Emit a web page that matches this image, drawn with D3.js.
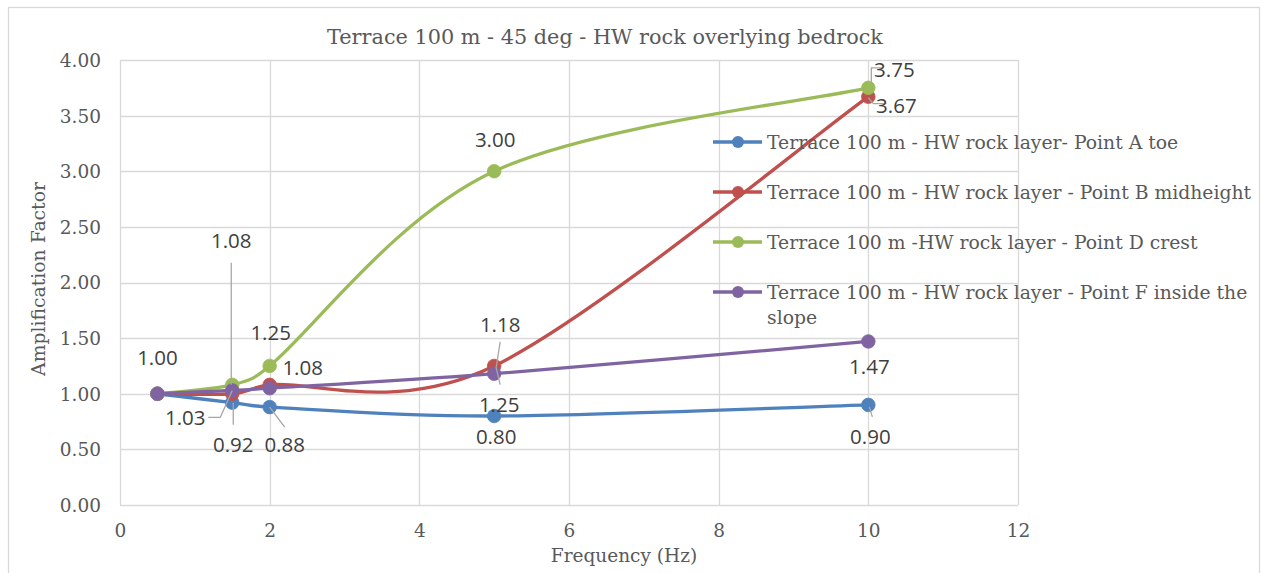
<!DOCTYPE html>
<html>
<head>
<meta charset="utf-8">
<script src="https://cdn.jsdelivr.net/npm/d3@7"></script>
<style>
  html, body { margin: 0; padding: 0; background: #ffffff; }
  svg { display: block; }
</style>
</head>
<body>
<svg id="chart" width="1265" height="573"></svg>
<script>
// Frequency sweep (Hz) shared by every series
const frequencies = [0.5, 1.5, 2, 5, 10];

// Amplification factor at each monitored point
const pointA = [1.00, 0.92, 0.88, 0.80, 0.90];
const pointB = [1.00, 1.00, 1.08, 1.25, 3.67];
const pointD = [1.00, 1.08, 1.25, 3.00, 3.75];
const pointF = [1.00, 1.03, 1.05, 1.18, 1.47];

const seriesNames = [
  "Terrace 100 m - HW rock layer- Point A toe",
  "Terrace 100 m - HW rock layer - Point B midheight",
  "Terrace 100 m -HW rock layer - Point D crest",
  "Terrace 100 m - HW rock layer - Point F inside the slope"
];

const xTicks = [0, 2, 4, 6, 8, 10, 12];
const yTicks = [0, 0.5, 1, 1.5, 2, 2.5, 3, 3.5, 4];

const titleText = "Terrace 100 m - 45 deg - HW rock overlying bedrock";
const xTitle = "Frequency (Hz)";
const yTitle = "Amplification Factor";

// ---- presentation -------------------------------------------------------
const colors = ["#4F81BD", "#C0504D", "#9BBB59", "#8064A2"];
const serif = "'DejaVu Serif', serif";
const sans = "'Open Sans', 'Liberation Sans', sans-serif";

// Value-label placement per series: point index, text offset, optional leader path
const labelPlacement = [
  [ // A
    { i: 1, dx: 1, dy: 42, leader: [[1, 0], [1, 22]] },
    { i: 2, dx: 15, dy: 38, leader: [[0, 0], [15, 20]] },
    { i: 3, dx: 2, dy: 21 },
    { i: 4, dx: 2, dy: 32, leader: [[1, 2], [4, 12]] }
  ],
  [ // B
    { i: 2, dx: 33, dy: -17 },
    { i: 3, dx: 5, dy: 39 },
    { i: 4, dx: 28, dy: 9, leader: [[0, 1], [5, 7], [18, 7]] }
  ],
  [ // D
    { i: 0, dx: 0, dy: -36 },
    { i: 1, dx: -1, dy: -144, leader: [[-1, -122], [-1, 0]] },
    { i: 2, dx: 1, dy: -33 },
    { i: 3, dx: 1, dy: -31 },
    { i: 4, dx: 26, dy: -18, leader: [[3, -5], [3, -20], [15, -20]] }
  ],
  [ // F
    { i: 1, dx: -47, dy: 27, leader: [[-24, 27], [-12, 27], [0, 0]] },
    { i: 3, dx: 6, dy: -49, leader: [[6, -32], [2, -6], [6, 11]] },
    { i: 4, dx: 1, dy: 25 }
  ]
];

const svg = d3.select("#chart");

// Chart frame
svg.append("rect")
  .attr("x", 8.5).attr("y", 7.5)
  .attr("width", 1251).attr("height", 580)
  .attr("fill", "#ffffff")
  .attr("stroke", "#d9d9d9").attr("stroke-width", 1.3);

const plot = { left: 120, right: 1018, top: 60, bottom: 505 };

const x = d3.scaleLinear().domain([0, 12]).range([plot.left, plot.right]);
const y = d3.scaleLinear().domain([0, 4]).range([plot.bottom, plot.top]);

// Gridlines
const grid = svg.append("g").attr("stroke", "#d9d9d9").attr("stroke-width", 1.3);
grid.selectAll("line.h").data(yTicks).join("line")
  .attr("class", "h")
  .attr("x1", plot.left).attr("x2", plot.right)
  .attr("y1", d => Math.round(y(d)) + 0.5).attr("y2", d => Math.round(y(d)) + 0.5);
grid.selectAll("line.v").data(xTicks).join("line")
  .attr("class", "v")
  .attr("y1", plot.top).attr("y2", plot.bottom)
  .attr("x1", d => Math.round(x(d)) + 0.5).attr("x2", d => Math.round(x(d)) + 0.5);

// Axes (tick labels only; the frame comes from the gridlines)
const yAxis = svg.append("g")
  .attr("transform", `translate(${plot.left},0)`)
  .call(d3.axisLeft(y).tickValues(yTicks).tickFormat(d3.format(".2f")).tickSize(0).tickPadding(19));
const xAxis = svg.append("g")
  .attr("transform", `translate(0,${plot.bottom})`)
  .call(d3.axisBottom(x).tickValues(xTicks).tickFormat(d3.format("d")).tickSize(0).tickPadding(19));
[yAxis, xAxis].forEach(a => {
  a.select(".domain").remove();
  a.selectAll("text")
    .attr("font-family", serif)
    .attr("font-size", 18.5)
    .attr("fill", "#595959");
});
yAxis.selectAll("text").attr("dy", "0.35em");
xAxis.selectAll("text").attr("dy", "0.71em");

// Titles
svg.append("text")
  .attr("x", 605).attr("y", 37).attr("dy", "0.35em")
  .attr("text-anchor", "middle")
  .attr("font-family", serif).attr("font-size", 20.8)
  .attr("fill", "#595959")
  .text(titleText);

svg.append("text")
  .attr("x", 624).attr("y", 556).attr("dy", "0.35em")
  .attr("text-anchor", "middle")
  .attr("font-family", serif).attr("font-size", 18.5)
  .attr("fill", "#595959")
  .text(xTitle);

svg.append("text")
  .attr("transform", "translate(38,279) rotate(-90)")
  .attr("dy", "0.35em")
  .attr("text-anchor", "middle")
  .attr("font-family", serif).attr("font-size", 18.8)
  .attr("fill", "#595959")
  .text(yTitle);

// Series
const seriesValues = [pointA, pointB, pointD, pointF];
const series = seriesValues.map((vals, k) => ({
  name: seriesNames[k],
  color: colors[k],
  points: frequencies.map((f, i) => ({ f, v: vals[i] }))
}));

// Smoothed line: Catmull-Rom style Bezier segments whose control arms are
// limited to half of the segment they belong to, so short segments next to
// long ones do not loop back on themselves.
function smoothPath(pts) {
  const p = pts.map(d => [x(d.f), y(d.v)]);
  const n = p.length;
  const tan = p.map((_, i) => {
    const a = p[Math.max(0, i - 1)], b = p[Math.min(n - 1, i + 1)];
    return [(b[0] - a[0]) / 6, (b[1] - a[1]) / 6];
  });
  const arm = (t, len) => {
    const l = Math.hypot(t[0], t[1]);
    const k = l > len * 0.5 ? (len * 0.5) / l : 1;
    return [t[0] * k, t[1] * k];
  };
  const path = d3.path();
  path.moveTo(p[0][0], p[0][1]);
  for (let i = 0; i < n - 1; i++) {
    const len = Math.hypot(p[i + 1][0] - p[i][0], p[i + 1][1] - p[i][1]);
    const a1 = arm(tan[i], len), a2 = arm(tan[i + 1], len);
    path.bezierCurveTo(
      p[i][0] + a1[0], p[i][1] + a1[1],
      p[i + 1][0] - a2[0], p[i + 1][1] - a2[1],
      p[i + 1][0], p[i + 1][1]);
  }
  return path.toString();
}

const seriesG = svg.append("g");
series.forEach(s => {
  const g = seriesG.append("g");
  g.append("path")
    .attr("d", smoothPath(s.points))
    .attr("fill", "none")
    .attr("stroke", s.color)
    .attr("stroke-width", 3.3)
    .attr("stroke-linecap", "round")
    .attr("stroke-linejoin", "round");
  g.selectAll("circle").data(s.points).join("circle")
    .attr("cx", d => x(d.f)).attr("cy", d => y(d.v))
    .attr("r", 6.8)
    .attr("fill", s.color)
    .attr("stroke", s.color).attr("stroke-width", 0.8);
});

// Legend
const legend = svg.append("g");
const legendY = [142, 192, 242, 292];
series.forEach((s, k) => {
  const g = legend.append("g").attr("transform", `translate(713,${legendY[k]})`);
  g.append("line")
    .attr("x1", 0).attr("x2", 49).attr("y1", 0).attr("y2", 0)
    .attr("stroke", s.color).attr("stroke-width", 3.3);
  g.append("circle").attr("cx", 25).attr("cy", 0).attr("r", 6)
    .attr("fill", s.color);
  const t = g.append("text")
    .attr("x", 54).attr("y", 0).attr("dy", "0.35em")
    .attr("font-family", serif).attr("font-size", 18.8)
    .attr("fill", "#595959");
  if (k === 3) {
    t.append("tspan").attr("x", 54).text("Terrace 100 m - HW rock layer - Point F inside the");
    t.append("tspan").attr("x", 54).attr("dy", 25).text("slope");
  } else {
    t.text(s.name);
  }
});

// Value labels with leader lines
const labelsG = svg.append("g");
const fmt = d3.format(".2f");
series.forEach((s, k) => {
  labelPlacement[k].forEach(p => {
    const d = s.points[p.i];
    const px = x(d.f), py = y(d.v);
    if (p.leader) {
      labelsG.append("path")
        .attr("d", d3.line()(p.leader.map(([a, b]) => [px + a, py + b])))
        .attr("fill", "none")
        .attr("stroke", "#a6a6a6").attr("stroke-width", 1.3);
    }
    labelsG.append("text")
      .attr("x", px + p.dx).attr("y", py + p.dy).attr("dy", "0.35em")
      .attr("text-anchor", "middle")
      .attr("font-family", sans).attr("font-size", 20.5)
      .attr("fill", "#404040")
      .text(fmt(d.v));
  });
});
</script>
</body>
</html>
